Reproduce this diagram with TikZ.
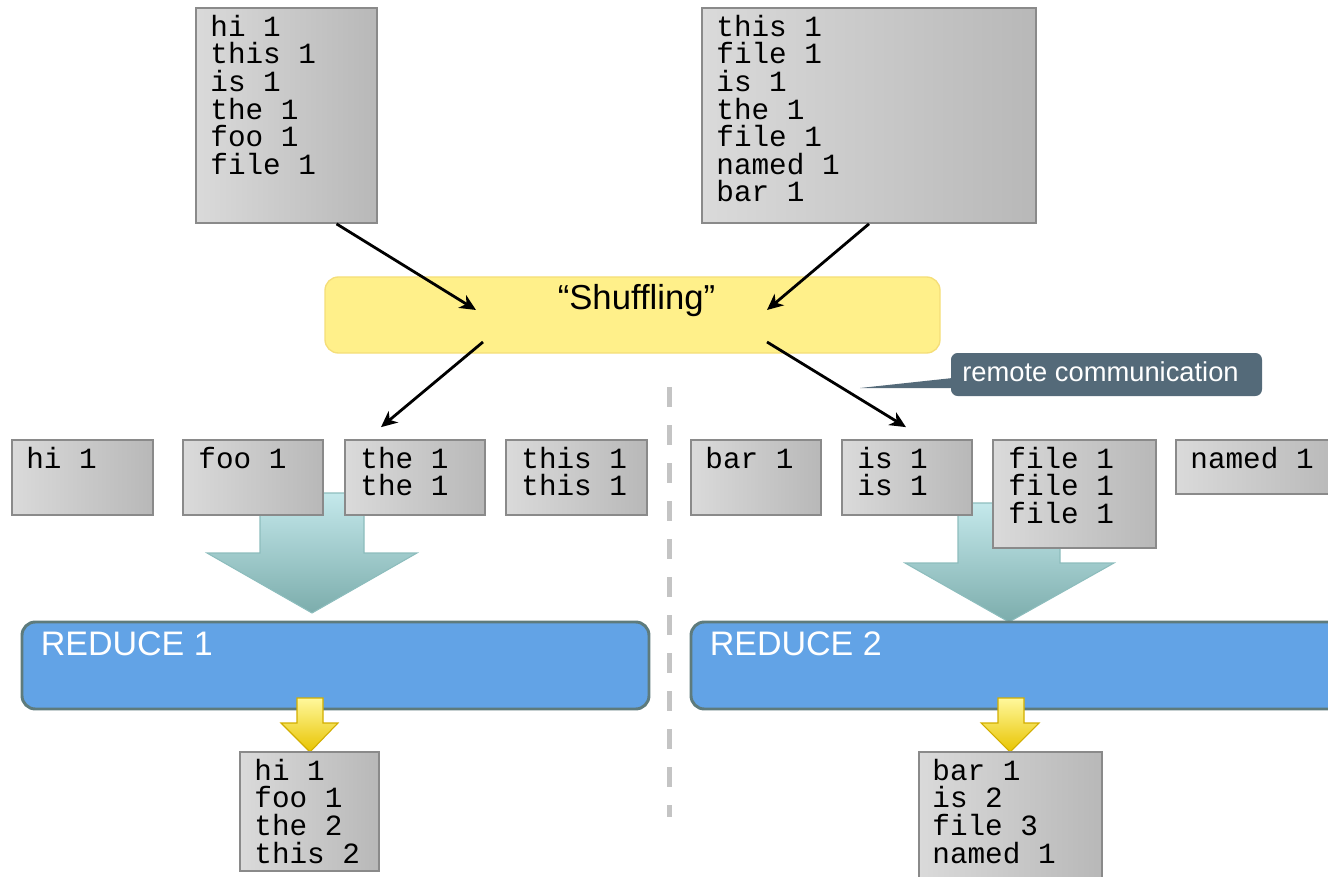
\documentclass[tikz,border=0pt]{standalone}
\usepackage{fontspec}
\setsansfont{Liberation Sans}
\setmonofont{Liberation Mono}
\usetikzlibrary{positioning,fit,calc,arrows.meta}

\definecolor{boxl}{HTML}{DADADA}
\definecolor{boxr}{HTML}{B8B8B8}
\definecolor{boxline}{HTML}{8A8A8A}
\definecolor{shufcol}{HTML}{FFF08A}
\definecolor{shufline}{HTML}{F5DE78}
\definecolor{notecol}{HTML}{546A79}
\definecolor{redcol}{HTML}{62A3E6}
\definecolor{redline}{HTML}{5E7B7C}
\definecolor{tealtop}{HTML}{C4E8EB}
\definecolor{tealbot}{HTML}{7CADAC}
\definecolor{tealline}{HTML}{8DBDBD}
\definecolor{yeltop}{HTML}{FFF89C}
\definecolor{yelbot}{HTML}{E8C400}
\definecolor{yelline}{HTML}{D2AE00}
\definecolor{divcol}{HTML}{C4C4C4}

\begin{document}
\begin{tikzpicture}[x=0.75pt, y=-0.75pt,
            kv/.style={draw=boxline, line width=1.3pt, left color=boxl, right color=boxr, inner sep=0pt},
            kvtext/.style={font=\fontsize{22}{20.7}\selectfont\ttfamily, align=left, inner sep=0pt, anchor=north west, execute at begin node={\strut}},
            flow/.style={line width=2.1pt, -{Stealth[length=12pt, width=11pt, inset=3.5pt]}},
            reducer/.style={draw=redline, fill=redcol, line width=2.2pt, rounded corners=10pt, inner sep=0pt},
            redtext/.style={font=\sffamily\fontsize{25.5}{30}\selectfont, text=white, inner sep=0pt, anchor=base west},
            bigarrow/.style={draw=tealline, line width=0.8pt, top color=tealtop, bottom color=tealbot},
            outarrow/.style={draw=yelline, line width=0.8pt, top color=yeltop, bottom color=yelbot}]
            \useasboundingbox (0,0) rectangle (1328,877);

            \path[bigarrow] (260,493) -- (364,493) -- (364,553) -- (417,553) -- (312,613) -- (207,553) -- (260,553) -- cycle;
            \path[bigarrow] (958,503) -- (1060,503) -- (1060,563) -- (1114,563) -- (1009,622) -- (905,563) -- (958,563) -- cycle;

            \node[kv, fit={(196,8) (377,223)}] (mapA) {};
            \node[kvtext] (mapAtext) at ($(mapA.north west)+(15,7.7)$) {hi 1\\this 1\\is 1\\the 1\\foo 1\\file 1};
            \node[kv, fit={(702,8) (1036,223)}] (mapB) {};
            \node[kvtext] (mapBtext) at ($(mapB.north west)+(15,7.7)$) {this 1\\file 1\\is 1\\the 1\\file 1\\named 1\\bar 1};

            \node[kv, fit={(12,440) (153,515)}] (hi) {};
            \node[kvtext] (hitext) at ($(hi.north west)+(15,7.7)$) {hi 1};
            \node[kv, fit={(183,440) (323,515)}] (foo) {};
            \node[kvtext] (footext) at ($(foo.north west)+(16,7.7)$) {foo 1};
            \node[kv, fit={(345,440) (485,515)}] (the) {};
            \node[kvtext] (thetext) at ($(the.north west)+(16,7.7)$) {the 1\\the 1};
            \node[kv, fit={(506,440) (647,515)}] (this) {};
            \node[kvtext] (thistext) at ($(this.north west)+(16,7.7)$) {this 1\\this 1};

            \node[kv, fit={(691,440) (821,515)}] (bar) {};
            \node[kvtext] (bartext) at ($(bar.north west)+(15,7.7)$) {bar 1};
            \node[kv, fit={(842,440) (972,515)}] (is) {};
            \node[kvtext] (istext) at ($(is.north west)+(16,7.7)$) {is 1\\is 1};
            \node[kv, fit={(993,440) (1156,548)}] (file) {};
            \node[kvtext] (filetext) at ($(file.north west)+(16,7.7)$) {file 1\\file 1\\file 1};
            \node[kv, fit={(1176,440) (1340,494)}] (named) {};
            \node[kvtext] (namedtext) at ($(named.north west)+(15,7.7)$) {named 1};

            \node[fill=shufcol, draw=shufline, line width=1pt, rounded corners=10pt, inner sep=0pt, fit={(325,277) (940,353)}] (shuf) {};
            \node[font=\sffamily\fontsize{26}{30}\selectfont, inner sep=0pt, anchor=base] (shuftext) at ($(shuf.north)+(4,33)$) {“Shuffling”};

            \coordinate (inA) at (476,310);
            \coordinate (inB) at (767,310);
            \coordinate (outA) at (483,342);
            \coordinate (outB) at (767,342);
            \draw[flow] ($(mapA.south)+(50,0)$) -- (inA);
            \draw[flow] (mapB.south) -- (inB);
            \draw[flow] (outA) -- ($(the.north)+(-34,-12)$);
            \draw[flow] (outB) -- ($(is.north)+(-1,-12)$);

            \node[fill=notecol, rounded corners=5pt, inner sep=0pt, fit={(951,353) (1262,396)}] (remote) {};
            \node[text=white, font=\sffamily\fontsize{20.5}{24}\selectfont, inner sep=0pt, anchor=base] (remotetext) at ($(remote.center)+(-6,7)$) {remote communication};
            \coordinate (talk) at (860,388);
            \fill[notecol] ($(remote.west)+(2,3.5)$) -- (talk) -- ($(remote.west)+(2,13.5)$) -- cycle;

            \draw[divcol, line width=3.75pt, dash pattern=on 15pt off 13.5pt] (669,387) -- (669,817);

            \node[reducer, fit={(22,622) (649,709)}] (red1) {};
            \node[redtext] (red1text) at ($(red1.north west)+(20,35)$) {REDUCE 1};
            \node[reducer, fit={(691,622) (1350,709)}] (red2) {};
            \node[redtext] (red2text) at ($(red2.north west)+(20,35)$) {REDUCE 2};

            \path[outarrow] (297,698) -- (323,698) -- (323,723) -- (338,723) -- (310,752) -- (281,723) -- (297,723) -- cycle;
            \path[outarrow] (998,698) -- (1024,698) -- (1024,723) -- (1039,723) -- (1010,752) -- (981,723) -- (998,723) -- cycle;

            \node[kv, fit={(240,752) (379,871)}] (res1) {};
            \node[kvtext] (res1text) at ($(res1.north west)+(15,7.7)$) {hi 1\\foo 1\\the 2\\this 2};
            \node[kv, fit={(919,752) (1102,890)}] (res2) {};
            \node[kvtext] (res2text) at ($(res2.north west)+(14,7.7)$) {bar 1\\is 2\\file 3\\named 1};
        \end{tikzpicture}
\end{document}
